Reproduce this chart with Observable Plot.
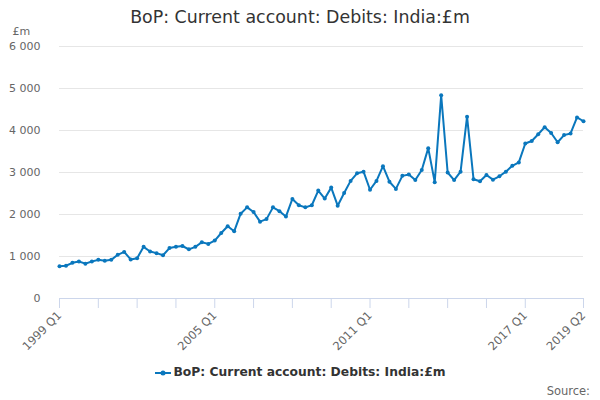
<!DOCTYPE html>
<html>
<head>
<meta charset="utf-8">
<script src="https://cdn.jsdelivr.net/npm/d3@7"></script>
<script src="https://cdn.jsdelivr.net/npm/@observablehq/plot@0.6"></script>
<style>
  html, body { margin: 0; padding: 0; background: #fff; }
  #wrap { width: 600px; height: 400px; position: relative; font-family: "DejaVu Sans", sans-serif; overflow: hidden; }
  #title { position: absolute; top: 6px; left: 0; width: 600px; text-align: center; font-size: 17.4px; color: #333; line-height: 22px; white-space: nowrap; z-index: 2; }
  #chart { position: absolute; top: 20px; left: 0; }
  #legend { position: absolute; top: 365px; left: 0; width: 600px; text-align: center; font-size: 12.3px; font-weight: bold; color: #333; }
  #legend svg { vertical-align: middle; margin-right: 3px; }
  #source { position: absolute; top: 384px; right: 10px; font-size: 11.5px; color: #666; }
</style>
</head>
<body>
<div id="wrap">
  <div id="title">BoP: Current account: Debits: India:£m</div>
  <div id="chart"></div>
  <div id="legend"><svg width="16" height="10"><line x1="0" y1="5" x2="16" y2="5" stroke="#0a77bd" stroke-width="2"/><circle cx="8" cy="5" r="2.5" fill="#0a77bd"/></svg>BoP: Current account: Debits: India:£m</div>
  <div id="source">Source:</div>
</div>
<script>
// Quarter categories 1999 Q1 .. 2019 Q2
const quarters = [];
for (let y = 1999; y <= 2019; y++) {
  for (let q = 1; q <= 4; q++) {
    if (y === 2019 && q > 2) break;
    quarters.push(`${y} Q${q}`);
  }
}

// Values (£m)
const values = [
  770, 780, 850, 880, 830, 880, 920, 900,
  920, 1040, 1110, 930, 960, 1230, 1120, 1080,
  1030, 1200, 1230, 1250, 1170, 1230, 1340, 1300,
  1380, 1560, 1720, 1600, 2020, 2170, 2060, 1830,
  1890, 2170, 2080, 1950, 2370, 2220, 2170, 2220,
  2570, 2380, 2640, 2210, 2510, 2800, 2980, 3020,
  2590, 2800, 3150, 2780, 2610, 2920, 2950, 2820,
  3060, 3580, 2770, 4840, 3000, 2820, 3020, 4330,
  2840, 2790, 2940, 2830, 2910, 3020, 3160, 3240,
  3690, 3750, 3910, 4080, 3940, 3720, 3890, 3930,
  4310, 4220
];

const yTicks = [0, 1000, 2000, 3000, 4000, 5000, 6000];
const xTickLabels = ["1999 Q1", "2005 Q1", "2011 Q1", "2017 Q1", "2019 Q2"];
const xTicks = quarters.filter((d, i) => i % 6 === 0 && i <= 72).concat(["2019 Q2"]);

const data = quarters.map((q, i) => ({quarter: q, value: values[i]}));
const color = "#0a77bd";
const fmt = d => d3.format(",")(d).replace(/,/g, " ");

const chart = Plot.plot({
  width: 600,
  height: 332,
  marginTop: 26,
  marginBottom: 54,
  marginLeft: 59,
  marginRight: 17,
  style: {fontFamily: "DejaVu Sans", fontSize: "11px", color: "#666", background: "transparent"},
  x: {type: "point", domain: quarters, padding: 0},
  y: {domain: [0, 6000]},
  marks: [
    Plot.gridY(yTicks.slice(1), {stroke: "#e6e6e6", strokeOpacity: 1}),
    Plot.axisY(yTicks, {tickSize: 0, tickPadding: 19, tickFormat: fmt, label: null, fill: "#666"}),
    Plot.ruleY([0], {stroke: "#ccd6eb"}),
    Plot.axisX(xTicks, {tickSize: 10, stroke: "#ccd6eb", fill: "#666", tickRotate: -45, tickPadding: 5,
      tickFormat: d => xTickLabels.includes(d) ? d : "", label: null, fontSize: 11.5}),
    Plot.text(["£m"], {frameAnchor: "top-left", dx: -47, dy: -19, textAnchor: "start", fill: "#666"}),
    Plot.line(data, {x: "quarter", y: "value", stroke: color, strokeWidth: 2}),
    Plot.dot(data, {x: "quarter", y: "value", fill: color, r: 2})
  ]
});
document.getElementById("chart").appendChild(chart);
</script>
</body>
</html>
